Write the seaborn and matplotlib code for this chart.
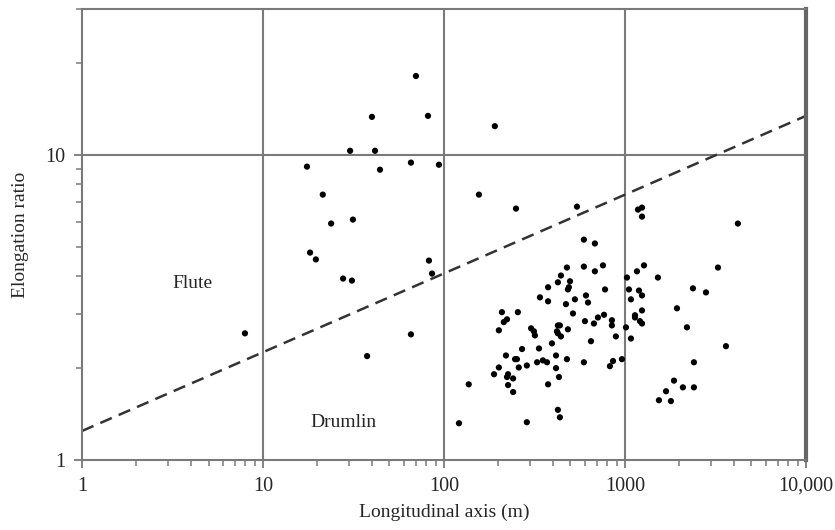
import numpy as np
import pandas as pd
import matplotlib
matplotlib.use("Agg")
import matplotlib.pyplot as plt
import matplotlib.ticker as mticker
import seaborn as sns

# longitudinal axis (m) and elongation ratio
length_m = [
    70, 40, 30.3, 41.6, 17.5, 44.3, 65.7, 21.4, 23.8, 31.4, 18.2, 19.6, 81.6,
    191, 93.8, 156, 250, 543, 1180, 1242, 1242, 4207, 593, 682, 82.6, 85.9,
    7.95, 27.7, 31, 65.7, 37.6, 137, 121,
    478, 593, 756, 3266, 682, 443, 426, 497, 490, 484, 376, 776, 1026, 1165,
    1274, 1521, 1052, 1195, 1242, 1079, 2375, 2803, 339, 376, 529, 472, 609,
    625, 209, 256, 516, 766, 709, 847, 847, 601, 674, 1013, 1136, 1136, 1242,
    1210, 1242, 1079, 1938, 2201, 3614, 2405, 1866, 2090, 2405, 1686, 1541,
    1795, 962, 859, 826, 891, 649, 593, 478, 426, 437, 421, 426, 443, 484,
    395, 416, 416, 432, 376, 426, 437, 287, 303, 314, 318, 335, 270, 327, 352,
    371, 287, 220, 247, 253, 259, 201, 189, 226, 223, 241, 226, 241, 201, 214,
    223,
]
elongation = [
    18.1, 13.3, 10.3, 10.3, 9.14, 8.93, 9.42, 7.4, 5.95, 6.13, 4.78, 4.54, 13.4,
    12.4, 9.27, 7.4, 6.66, 6.76, 6.61, 6.71, 6.27, 5.95, 5.27, 5.12, 4.5, 4.08,
    2.6, 3.93, 3.87, 2.58, 2.19, 1.77, 1.32,
    4.27, 4.3, 4.34, 4.27, 4.15, 4.02, 3.82, 3.85, 3.68, 3.62, 3.68, 3.62, 3.96,
    4.15, 4.34, 3.96, 3.62, 3.59, 3.46, 3.36, 3.65, 3.54, 3.41, 3.31, 3.36,
    3.24, 3.46, 3.28, 3.05, 3.05, 3.02, 2.99, 2.93, 2.87, 2.76, 2.85, 2.80,
    2.72, 2.98, 2.93, 3.09, 2.85, 2.80, 2.50, 3.14, 2.72, 2.36, 2.09, 1.82,
    1.73, 1.73, 1.68, 1.57, 1.56, 2.14, 2.11, 2.03, 2.54, 2.45, 2.09, 2.14,
    2.76, 2.76, 2.64, 2.60, 2.54, 2.68, 2.41, 2.20, 2.00, 1.87, 1.77, 1.46,
    1.38, 1.33, 2.70, 2.64, 2.56, 2.32, 2.31, 2.09, 2.12, 2.09, 2.04, 2.20,
    2.14, 2.14, 2.01, 2.01, 1.91, 1.91, 1.87, 1.85, 1.76, 1.67, 2.66, 2.83,
    2.89,
]

# flute / drumlin boundary (dashed line end points)
boundary_x = [1, 10000]
boundary_y = [1.245, 13.4]

x_ticks = [1, 10, 100, 1000, 10000]
x_tick_labels = ["1", "10", "100", "1000", "10,000"]
y_ticks = [1, 10]
y_tick_labels = ["1", "10"]

df = pd.DataFrame({"length": length_m, "ratio": elongation})
line_df = pd.DataFrame({"x": boundary_x, "y": boundary_y})

sns.set_style("white")
plt.rcParams["font.family"] = ["Liberation Serif", "DejaVu Serif"]

fig = plt.figure(figsize=(8.35, 5.3), dpi=100)
ax = fig.add_axes([0.0982, 0.132, 0.867, 0.851])

grid_col = "#7a7a7a"
ax.set_xscale("log")
ax.set_yscale("log")
ax.set_xlim(1, 10000)
ax.set_ylim(1, 30)

for v in [10, 100, 1000]:
    ax.axvline(v, color=grid_col, lw=1.5, zorder=1)
ax.axhline(10, color=grid_col, lw=1.5, zorder=1)

sns.lineplot(data=line_df, x="x", y="y", ax=ax, color="#333333", lw=1.8,
             linestyle=(0, (5, 3)), zorder=2)
sns.scatterplot(data=df, x="length", y="ratio", ax=ax, color="black",
                s=20, edgecolor="none", zorder=3)

ax.set_xticks(x_ticks)
ax.set_xticklabels(x_tick_labels)
ax.set_yticks(y_ticks)
ax.set_yticklabels(y_tick_labels)
ax.xaxis.set_minor_locator(mticker.LogLocator(base=10, subs=np.arange(2, 10)))
ax.yaxis.set_minor_locator(mticker.LogLocator(base=10, subs=np.arange(2, 10)))
ax.xaxis.set_minor_formatter(mticker.NullFormatter())
ax.yaxis.set_minor_formatter(mticker.NullFormatter())
ax.tick_params(which="major", direction="out", length=6, width=1.3,
               color=grid_col, labelsize=14.5, pad=6)
ax.tick_params(which="minor", direction="out", length=4, width=1.1,
               color=grid_col)
ax.tick_params(axis="x", bottom=True, which="both")
ax.tick_params(axis="y", left=True, which="both")

for side in ["left", "bottom", "top"]:
    ax.spines[side].set_color(grid_col)
    ax.spines[side].set_linewidth(1.5)
ax.spines["right"].set_color("#666666")
ax.spines["right"].set_linewidth(3)

ax.set_xlabel("Longitudinal axis (m)", fontsize=14, labelpad=6)
ax.set_ylabel("Elongation ratio", fontsize=14, labelpad=12)

ax.text(4.1, 3.79, "Flute", fontsize=14, ha="center", va="center")
ax.text(28, 1.33, "Drumlin", fontsize=14, ha="center", va="center")

fig.savefig("out.png", dpi=100)
